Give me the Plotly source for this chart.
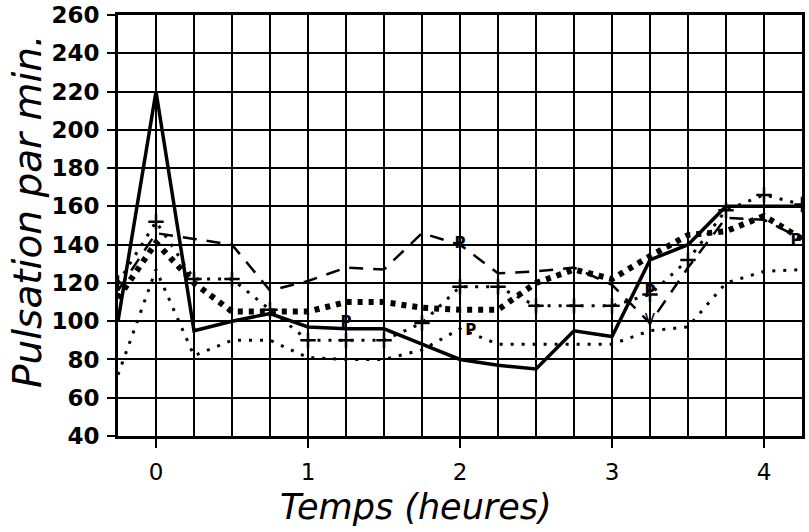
import plotly.graph_objects as go

# Time (hours)
temps = [-0.25, 0, 0.25, 0.5, 0.75, 1, 1.25, 1.5, 1.75, 2, 2.25, 2.5, 2.75, 3, 3.25, 3.5, 3.75, 4, 4.25]

# Pulse series (beats per minute)
trait_plein = [100, 220, 95, 100, 104, 97, 96, 96, 88, 80, 77, 75, 95, 92, 132, 140, 160, 160, 160]
tirets      = [116, 146, 143, 140, 116, 121, 128, 127, 146, 140, 125, 126, 128, 119, 99, 128, 154, 153, 143]
croix       = [120, 152, 122, 122, 106, 90, 90, 90, 99, 118, 118, 108, 108, 108, 114, 132, 158, 166, 161]
gros_points = [112, 141, 120, 105, 105, 105, 110, 110, 107, 106, 106, 120, 127, 122, 134, 145, 147, 155, 143]
petits_points = [72, 127, 82, 90, 90, 81, 80, 80, 85, 96, 88, 88, 88, 88, 95, 97, 120, 126, 127]

# "P" marks and arrow mark
p_x = [1.25, 2.0, 2.07, 3.25, 4.21]
p_y = [99, 140, 95, 115, 142]
v_x = [3.25]
v_y = [100]

x_ticks = [0, 1, 2, 3, 4]
y_ticks = [40, 60, 80, 100, 120, 140, 160, 180, 200, 220, 240, 260]

fig = go.Figure()

fig.add_trace(go.Scatter(x=temps, y=petits_points, mode="lines",
                         line=dict(color="black", width=3, dash="3px,8px"), showlegend=False))
fig.add_trace(go.Scatter(x=temps, y=croix, mode="lines+markers",
                         line=dict(color="black", width=3, dash="3px,8px"),
                         marker=dict(symbol="cross-thin", size=11, color="black",
                                     line=dict(color="black", width=2.5)),
                         showlegend=False))
fig.add_trace(go.Scatter(x=temps, y=gros_points, mode="lines",
                         line=dict(color="black", width=6, dash="5px,6px"), showlegend=False))
fig.add_trace(go.Scatter(x=temps, y=tirets, mode="lines",
                         line=dict(color="black", width=2.5, dash="14px,10px"), showlegend=False))
fig.add_trace(go.Scatter(x=temps, y=trait_plein, mode="lines",
                         line=dict(color="black", width=3.5), showlegend=False))
fig.add_trace(go.Scatter(x=p_x, y=p_y, mode="text", text=["P"] * len(p_x),
                         textfont=dict(family="DejaVu Sans", size=15, color="black", weight="bold"),
                         showlegend=False))
fig.add_trace(go.Scatter(x=v_x, y=v_y, mode="text", text=["V"] * len(v_x),
                         textfont=dict(family="DejaVu Sans", size=15, color="black"),
                         showlegend=False))

L, R, T, B = 118, 7, 15, 96
W, H = 809, 532
plot_w = W - L - R
plot_h = H - T - B


def px_to_paper(px, py):
    return (px - L) / plot_w, 1 - (py - T) / plot_h


tx, ty = px_to_paper(416, 507)
yx, yy = px_to_paper(27, 212)

fig.update_layout(
    width=W, height=H,
    margin=dict(l=L, r=R, t=T, b=B, autoexpand=False),
    paper_bgcolor="white", plot_bgcolor="white",
    font=dict(family="DejaVu Sans", color="black"),
    xaxis=dict(range=[-0.25, 4.25], tickvals=x_ticks, ticktext=[str(v) for v in x_ticks],
               showgrid=True, gridcolor="black", gridwidth=2,
               minor=dict(dtick=0.25, tick0=0, showgrid=True, gridcolor="black", gridwidth=2),
               ticks="outside", ticklen=9, tickwidth=2, tickcolor="black",
               tickfont=dict(family="DejaVu Sans", size=23, color="black"),
               ticklabelstandoff=4,
               showline=True, linecolor="black", linewidth=3, mirror=True, zeroline=False),
    yaxis=dict(range=[40, 260], tickvals=y_ticks, ticktext=[str(v) for v in y_ticks],
               showgrid=True, gridcolor="black", gridwidth=2,
               ticks="outside", ticklen=8, tickwidth=2, tickcolor="black",
               tickfont=dict(family="DejaVu Sans", size=23, color="black", weight="bold"),
               ticklabelstandoff=3,
               showline=True, linecolor="black", linewidth=3, mirror=True, zeroline=False),
    annotations=[
        dict(text="Temps (heures)", x=tx, y=ty, xref="paper", yref="paper",
             xanchor="center", yanchor="middle", showarrow=False,
             font=dict(family="DejaVu Sans", size=35, style="italic", color="black")),
        dict(text="Pulsation par min.", x=yx, y=yy, xref="paper", yref="paper",
             xanchor="center", yanchor="middle", textangle=-90, showarrow=False,
             font=dict(family="DejaVu Sans", size=39, style="italic", color="black")),
    ],
)

fig.write_html("out.html", config={"displayModeBar": False},
               post_script="document.body.style.margin='0';document.body.style.overflow='hidden';")
